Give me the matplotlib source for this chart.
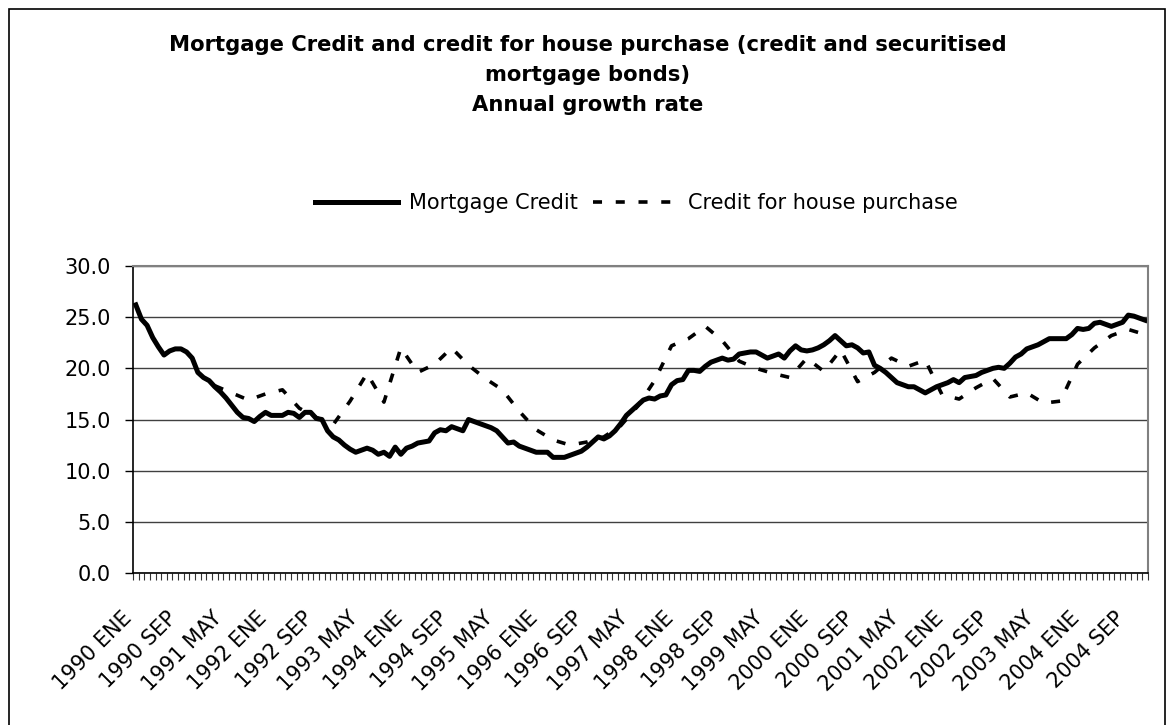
import numpy as np
import matplotlib
matplotlib.use("Agg")
import matplotlib.pyplot as plt
from matplotlib.patches import Rectangle
from matplotlib.ticker import FormatStrFormatter

plt.rcParams["font.family"] = ["DejaVu Sans"]

# ── data (annual growth rate, %) ──────────────────────────────────────────────
# monthly, 1990 ENE .. 2004 DIC
mortgage_credit = [
    26.2, 24.8, 24.2, 23.0, 22.1, 21.3, 21.7, 21.9, 21.9, 21.6, 21.0, 19.6,
    19.1, 18.8, 18.2, 17.7, 17.1, 16.4, 15.7, 15.2, 15.1, 14.8, 15.3, 15.7,
    15.4, 15.4, 15.4, 15.7, 15.6, 15.2, 15.7, 15.7, 15.1, 15.0, 13.9, 13.3,
    13.0, 12.5, 12.1, 11.8, 12.0, 12.2, 12.0, 11.6, 11.8, 11.4, 12.3, 11.6,
    12.2, 12.4, 12.7, 12.8, 12.9, 13.7, 14.0, 13.9, 14.3, 14.1, 13.9, 15.0,
    14.8, 14.6, 14.4, 14.2, 13.9, 13.3, 12.7, 12.8, 12.4, 12.2, 12.0, 11.8,
    11.8, 11.8, 11.3, 11.3, 11.3, 11.5, 11.7, 11.9, 12.3, 12.8, 13.3, 13.1,
    13.4, 13.9, 14.6, 15.4, 15.9, 16.4, 16.9, 17.1, 17.0, 17.3, 17.4, 18.4,
    18.8, 18.9, 19.8, 19.8, 19.7, 20.2, 20.6, 20.8, 21.0, 20.8, 20.9, 21.4,
    21.5, 21.6, 21.6, 21.3, 21.0, 21.2, 21.4, 21.0, 21.7, 22.2, 21.8, 21.7,
    21.8, 22.0, 22.3, 22.7, 23.2, 22.7, 22.2, 22.3, 22.0, 21.5, 21.6, 20.3,
    20.0, 19.6, 19.1, 18.6, 18.4, 18.2, 18.2, 17.9, 17.6, 17.9, 18.2, 18.4,
    18.6, 18.9, 18.6, 19.1, 19.2, 19.3, 19.6, 19.8, 20.0, 20.1, 20.0, 20.5,
    21.1, 21.4, 21.9, 22.1, 22.3, 22.6, 22.9, 22.9, 22.9, 22.9, 23.3, 23.9,
    23.8, 23.9, 24.4, 24.5, 24.3, 24.1, 24.3, 24.5, 25.2, 25.1, 24.9, 24.7,
]

# quarterly (end of quarter), 1991 MAR .. 2004 DIC
house_idx = list(range(14, 180, 3))
house_purchase = [
    18.3, 17.6, 16.9, 17.5, 17.9, 16.1, 15.2, 14.5, 16.8, 19.5, 16.7, 22.0,
    19.6, 20.4, 22.0, 20.3, 19.0, 17.9, 15.8, 14.0, 13.0, 12.5, 12.8, 13.3,
    14.4, 16.3, 18.8, 22.2, 22.9, 24.1, 22.7, 20.7, 20.0, 19.5, 19.1, 21.0,
    19.7, 21.8, 18.7, 19.6, 21.0, 20.2, 20.8, 17.4, 17.0, 18.1, 19.0, 17.2,
    17.6, 16.6, 16.8, 20.4, 22.0, 23.2, 23.8, 23.3,
]

label_idx = list(range(0, 180, 8))
x_labels = [
    "1990 ENE", "1990 SEP", "1991 MAY", "1992 ENE", "1992 SEP", "1993 MAY",
    "1994 ENE", "1994 SEP", "1995 MAY", "1996 ENE", "1996 SEP", "1997 MAY",
    "1998 ENE", "1998 SEP", "1999 MAY", "2000 ENE", "2000 SEP", "2001 MAY",
    "2002 ENE", "2002 SEP", "2003 MAY", "2004 ENE", "2004 SEP",
]

title_lines = [
    "Mortgage Credit and credit for house purchase (credit and securitised",
    "mortgage bonds)",
    "Annual growth rate",
]

# ── figure ────────────────────────────────────────────────────────────────────
W, H = 1169, 725
fig = plt.figure(figsize=(W / 100, H / 100), dpi=100)
ax = fig.add_axes([133 / W, 1 - 573 / H, (1148 - 133) / W, (573 - 266) / H])

x = np.arange(len(mortgage_credit))
ax.plot(x, mortgage_credit, color="black", lw=3.6,
        solid_joinstyle="round", label="Mortgage Credit")
ax.plot(house_idx, house_purchase, color="black", lw=2.6,
        linestyle=(0, (2.5, 3.8)), label="Credit for house purchase")

ax.set_xlim(-0.5, len(mortgage_credit) - 0.5)
ax.set_ylim(0, 30)
ax.set_yticks(np.arange(0, 31, 5))
ax.yaxis.set_major_formatter(FormatStrFormatter("%.1f"))
ax.yaxis.grid(True, color="#404040", lw=1)
ax.set_axisbelow(True)

ax.set_xticks(label_idx)
ax.set_xticklabels(x_labels, rotation=45, ha="right", va="top")
ax.set_xticks(np.arange(-0.5, len(mortgage_credit), 1), minor=True)
ax.tick_params(axis="x", which="major", length=0, pad=25, labelsize=15)
ax.tick_params(axis="x", which="minor", length=5, width=0.8,
               direction="out", color="#333333")
ax.tick_params(axis="y", length=6, width=1, pad=10, labelsize=15)

for s in ["left", "bottom"]:
    ax.spines[s].set_color("black")
    ax.spines[s].set_linewidth(1.2)
for s in ["top", "right"]:
    ax.spines[s].set_color("#808080")
    ax.spines[s].set_linewidth(1.5)

for y, line in zip([45, 75, 105], title_lines):
    fig.text(588 / W, 1 - y / H, line, ha="center", va="center",
             fontsize=15.2, fontweight="bold")

fig.legend(loc="center", bbox_to_anchor=(636 / W, 1 - 203 / H), ncol=2,
           frameon=False, fontsize=15, handlelength=4.0, handletextpad=0.55,
           columnspacing=0.7)

fig.add_artist(Rectangle((8.5 / W, -0.05), (1164.5 - 8.5) / W, 1.05 - 9 / H,
                         transform=fig.transFigure, fill=False,
                         edgecolor="black", lw=1.2))

fig.savefig("out.png", dpi=100)
